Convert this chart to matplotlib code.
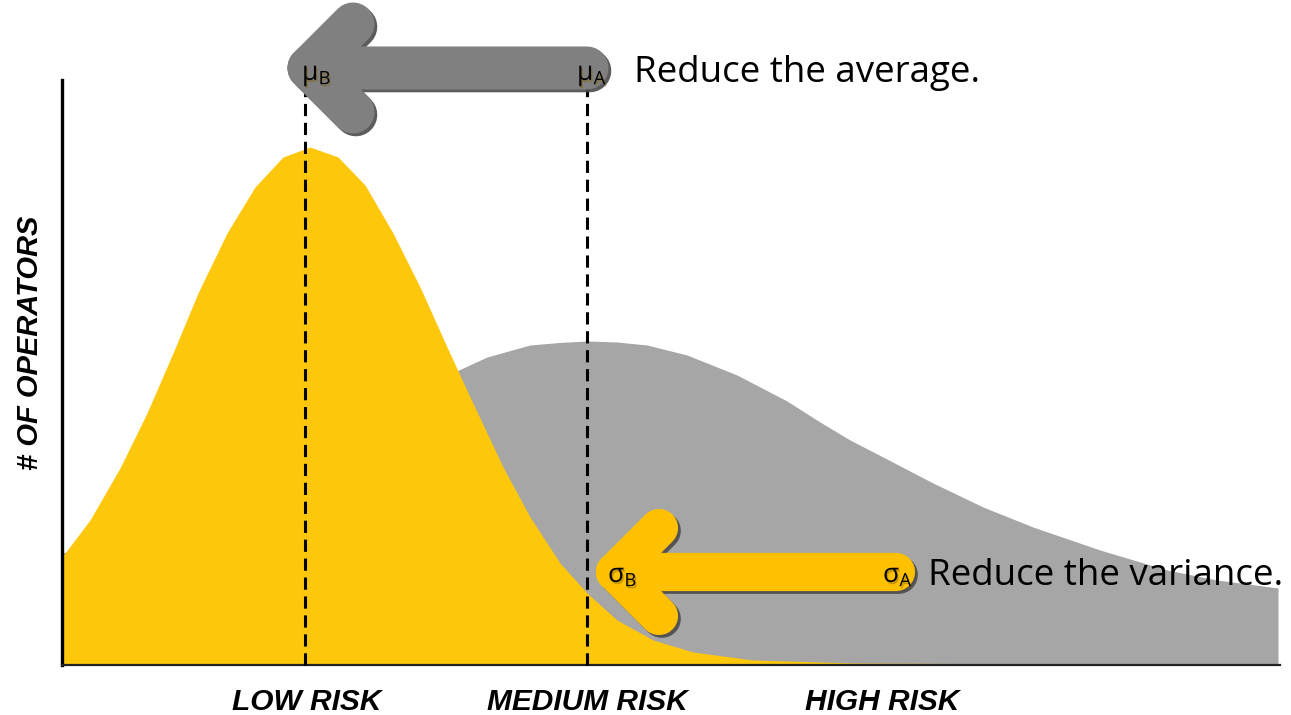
import numpy as np
import matplotlib
matplotlib.use('Agg')
import matplotlib.pyplot as plt
import matplotlib.patheffects as pe

# risk position (x) and number of operators (y)
after_x = [0, 28, 58, 85, 111, 136, 165, 193, 221, 248, 276, 303, 331, 358, 385,
           408, 441, 468, 498, 525, 555, 591, 631, 691, 791, 1216]
after_y = [108, 145, 197, 252, 312, 372, 432, 478, 508, 518, 508, 480, 432, 378, 318,
           268, 198, 148, 102, 72, 45, 25, 13, 5, 2, 0]

before_x = [0, 25, 75, 125, 175, 225, 275, 325, 375, 425, 468, 497, 525, 555, 585, 625, 675,
            725, 758, 788, 821, 871, 921, 971, 1038, 1105, 1155, 1216]
before_y = [112, 118, 137, 157, 180, 205, 233, 262, 285, 308, 320, 322.5, 324, 323, 320, 310, 290,
            264, 243, 225, 208, 182, 158, 138, 115, 95, 85, 77]

mu_b, mu_a = 243, 525
risk_labels = ['LOW RISK', 'MEDIUM RISK', 'HIGH RISK']
risk_pos = [245, 525, 820]

YELLOW = '#FDC70C'
GRAY = '#A6A6A6'

fig = plt.figure(figsize=(12.91, 7.15), dpi=100)
ax = fig.add_axes([62 / 1291, 50 / 715, 1218 / 1291, 585 / 715])
ax.set_xlim(0, 1218)
ax.set_ylim(0, 585)

ax.fill_between(before_x, before_y, 0, color=GRAY, lw=0, zorder=1)
ax.fill_between(after_x, after_y, 0, color=YELLOW, lw=0, zorder=2)

for m in (mu_b, mu_a):
    ax.plot([m, m], [0, 577], color='black', lw=2.2, ls=(0, (4, 2.2)), zorder=3, clip_on=False)

for s in ('top', 'right'):
    ax.spines[s].set_visible(False)
ax.spines['left'].set_linewidth(2.4)
ax.spines['bottom'].set_linewidth(1.6)
ax.spines['bottom'].set_color('#222222')
ax.set_xticks([])
ax.set_yticks([])


def draw_arrow(tip, arm, end, color, width):
    tx, ty = tip
    xs = [tx + arm, tx, tx + arm, np.nan, tx, end]
    ys = [ty + arm, ty, ty - arm, np.nan, ty, ty]
    ax.plot(xs, ys, color=color, lw=width, solid_capstyle='round', solid_joinstyle='round',
            clip_on=False, zorder=5,
            path_effects=[pe.SimpleLineShadow(offset=(2, -2), shadow_color='#4a4a4a', alpha=0.9),
                          pe.Normal()])


draw_arrow((247, 597), 44, 525, '#808080', 31)
draw_arrow((553, 93), 44, 834, '#FFC000', 27.5)

lab_fx = [pe.withSimplePatchShadow(offset=(1, -1.5), shadow_rgbFace='#806000', alpha=0.45)]
lbl_kw = dict(fontsize=19, family='Open Sans', va='baseline', ha='left', zorder=6,
              clip_on=False, path_effects=lab_fx)
ax.text(240, 585, r'μ$_{\mathregular{B}}$', **lbl_kw)
ax.text(515, 585, r'μ$_{\mathregular{A}}$', **lbl_kw)
ax.text(546, 83, r'σ$_{\mathregular{B}}$', **lbl_kw)
ax.text(821, 83, r'σ$_{\mathregular{A}}$', **lbl_kw)

txt_kw = dict(fontsize=26.5, family='Open Sans', va='baseline', ha='left', zorder=6, clip_on=False)
ax.text(572, 583, 'Reduce the average.', **txt_kw)
ax.text(866, 80, 'Reduce the variance.', **txt_kw)

for lab, p in zip(risk_labels, risk_pos):
    ax.text(p, -45, lab, fontsize=21.5, family='Liberation Sans', weight='bold', style='italic',
            ha='center', va='baseline', clip_on=False)

ax.text(-32, 322, '# OF OPERATORS', fontsize=21, family='Liberation Sans', weight='bold',
        style='italic', rotation=90, ha='center', va='center', clip_on=False)

fig.savefig('out.png', dpi=100)
